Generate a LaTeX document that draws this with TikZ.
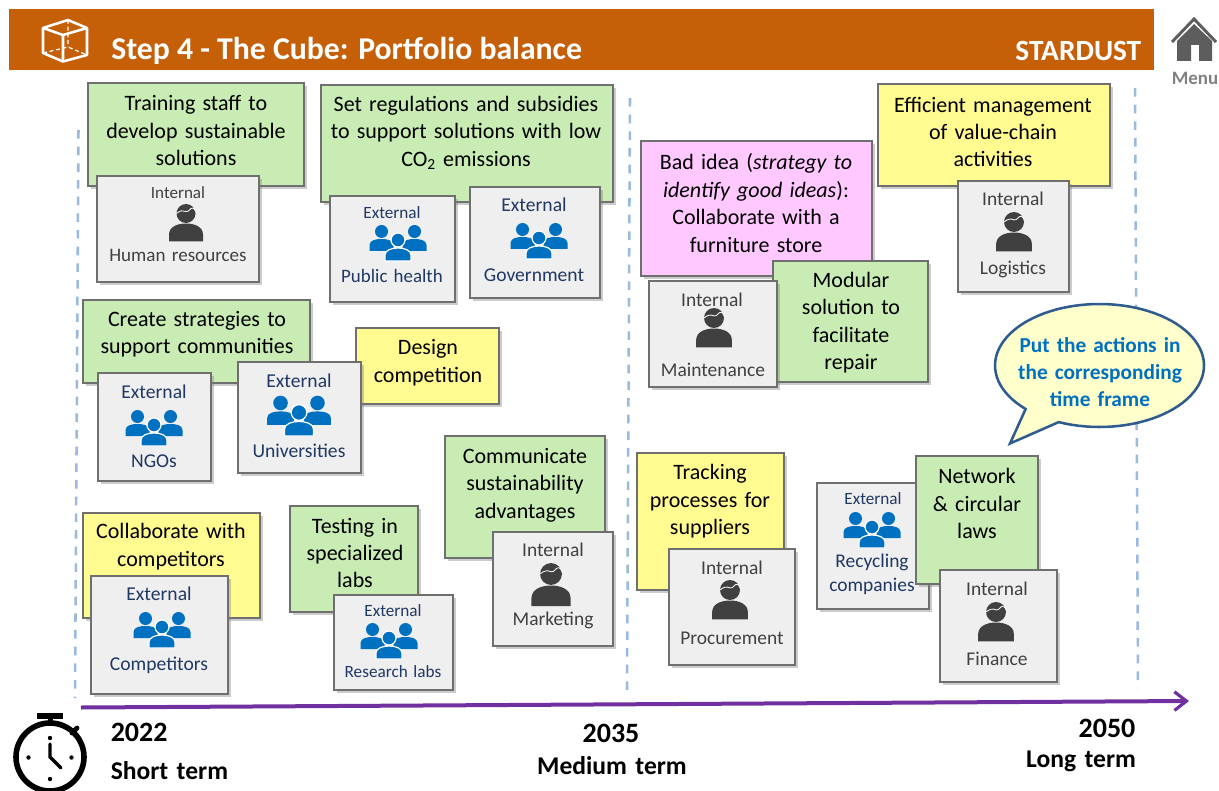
\documentclass[tikz,border=0pt]{standalone}
\usepackage{fontspec}
\setmainfont[WordSpace=1.45]{Carlito}
\newfontfamily\plainfont{Carlito}
\usetikzlibrary{shadows,arrows.meta}
\definecolor{hdr}{HTML}{C55F08}
\definecolor{gbox}{HTML}{C9EBB4}
\definecolor{ybox}{HTML}{FFFB91}
\definecolor{pbox}{HTML}{FFC9FF}
\definecolor{grbox}{HTML}{EFEFEF}
\definecolor{edge}{HTML}{6F6F6F}
\definecolor{navy}{HTML}{1F3864}
\definecolor{dk}{HTML}{404040}
\definecolor{blueic}{HTML}{0070C0}
\definecolor{dashc}{HTML}{9ABBDF}
\definecolor{purp}{HTML}{7030A0}
\definecolor{callouted}{HTML}{2E5C8E}
\definecolor{calloutfl}{HTML}{FFFFCC}
\tikzset{
 x=0.75pt,y=-0.75pt,
 sticky/.style={draw=edge,line width=1.1pt,drop shadow={shadow xshift=2pt,shadow yshift=-2pt,opacity=.4}},
 green/.style={sticky,fill=gbox},
 yellow/.style={sticky,fill=ybox},
 pink/.style={sticky,fill=pbox},
 gray/.style={sticky,fill=grbox},
 note/.style={align=center,font=\fontsize{16.5pt}{20.6pt}\selectfont,text=black,inner sep=0pt},
 intl/.style={font=\fontsize{14.6pt}{17pt}\selectfont,text=dk,inner sep=0pt},
 extl/.style={font=\fontsize{14.7pt}{17pt}\selectfont,text=navy,inner sep=0pt},
 smallext/.style={font=\fontsize{12.9pt}{15pt}\selectfont,text=navy,inner sep=0pt},
 timeyr/.style={font=\bfseries\fontsize{21pt}{25pt}\selectfont,inner sep=0pt},
 timelb/.style={font=\bfseries\fontsize{19.2pt}{23pt}\selectfont,inner sep=0pt},
 guide/.style={dashc,line width=1.9pt,dash pattern=on 6.5pt off 6pt},
}
\newcommand{\rbox}[6]{\path[#1] (#3,#4) rectangle (#5,#6) node[pos=.5,inner sep=0pt] (#2) {};}
\newcommand{\personicon}[3]{%
 \begin{scope}[shift={(#1,#2)},scale=#3]
 \fill[dk] (0,0) circle[radius=9.5];
 \fill[dk] (-17,28) -- (-17,21) .. controls (-17,13) and (-8,10) .. (0,10) .. controls (8,10) and (17,13) .. (17,21) -- (17,28) -- cycle;
 \draw[white,line width=.6pt] (-9.5,0) .. controls (-6,-3) and (-3,-3.5) .. (0,-2) .. controls (3,-1) and (4,-6) .. (7,-5.5) .. controls (8,-5) and (9,-3.5) .. (9.8,-2);
 \end{scope}}
\newcommand{\groupicon}[3]{%
 \begin{scope}[shift={(#1,#2)},scale=#3]
 \foreach \dx in {-16.5,16.5}{
  \fill[blueic] (\dx,-8.5) circle[radius=6.5];
  \fill[blueic] (\dx-12,11) -- (\dx-12,5) .. controls (\dx-12,0) and (\dx-5,-1) .. (\dx,-1) .. controls (\dx+5,-1) and (\dx+12,0) .. (\dx+12,5) -- (\dx+12,11) -- cycle;
 }
 \fill[blueic,draw=white,line width=.9pt] (0,0) circle[radius=7];
 \fill[blueic,draw=white,line width=.9pt] (-13,21) -- (-13,15) .. controls (-13,10) and (-6,8) .. (0,8) .. controls (6,8) and (13,10) .. (13,15) -- (13,21) -- cycle;
 \end{scope}}
\begin{document}
\begin{tikzpicture}
\useasboundingbox (0,0) rectangle (1219,791);
% header
\path[fill=hdr] (9,9) rectangle (1154,70);
\node[anchor=west,inner sep=0pt,text=white,font=\plainfont\bfseries\fontsize{23.8pt}{26pt}\selectfont] (title) at (111,50.5) {Step 4 - The Cube: Portfolio balance};
\node[anchor=east,inner sep=0pt,text=white,font=\bfseries\fontsize{22pt}{24pt}\selectfont] (brand) at (1141.5,51) {STARDUST};
% cube
\begin{scope}[white,line width=1.9pt,line join=round]
 \draw (43,28) -- (68,20) -- (87,28) -- (87,55) -- (63,61.5) -- (43,53) -- cycle;
 \draw (43,28) -- (63,35) -- (87,28) (63,35) -- (63,61.5);
 \draw[line width=.9pt,densely dashed] (68,20) -- (68,47) (43,53) -- (68,47) -- (87,55);
\end{scope}
% home
\draw[draw=dk!85,line width=2.2pt,line join=miter] (1172,42) -- (1194,19) -- (1216,42);
\path[fill=dk!85,even odd rule] (1177,41) -- (1194,24) -- (1212,41) -- (1212,61) -- (1199,61) -- (1199,45) -- (1191,45) -- (1191,61) -- (1177,61) -- cycle;
\node[inner sep=0pt,text=black!50,font=\bfseries\fontsize{14.2pt}{15pt}\selectfont] (menu) at (1195,78) {Menu};
% guides
\coordinate (g1a) at (78.5,130); \coordinate (g1b) at (75,698);
\coordinate (g2a) at (630,98); \coordinate (g2b) at (627,690);
\coordinate (g3a) at (1135,88); \coordinate (g3b) at (1138,688);
\draw[guide] (g1a) -- (g1b);
\draw[guide] (g2a) -- (g2b);
\draw[guide] (g3a) -- (g3b);
% arrow
\coordinate (tl0) at (81,707.5); \coordinate (tl1) at (1189,701);
\draw[purp,line width=3pt,-{Straight Barb[length=9pt,width=14pt,line width=2.4pt]}] (tl0) -- (tl1);
% coloured notes
\rbox{green}{n1}{88}{83}{304}{186}
\node[note] at (196,130.5) {Training staff to\\develop sustainable\\solutions};
\rbox{green}{n2}{321}{85}{613}{202}
\node[note] at (466,133) {Set regulations and subsidies\\to support solutions with low\\CO\textsubscript{2} emissions};
\rbox{green}{n3}{83}{300}{310}{383}
\node[note] at (197,334) {Create strategies to\\support communities};
\rbox{yellow}{n4}{356}{328}{499}{404}
\node[note] at (428,362.5) {Design\\competition};
\rbox{gray}{b5}{238}{362}{361}{473}
\rbox{green}{n5}{445}{436}{605}{558}
\node[note] at (525,485) {Communicate\\sustainability\\advantages};
\rbox{yellow}{n6}{83}{513}{260}{618}
\node[note] at (171,546.5) {Collaborate with\\competitors};
\rbox{green}{n7}{290}{506}{418}{612}
\node[note] at (355,553) {Testing in\\specialized\\labs};
\rbox{pink}{n8}{641}{141}{872}{276}
\node[note] at (756,203) {Bad idea (\textit{strategy to}\\\textit{identify good ideas}):\\Collaborate with a\\furniture store};
\rbox{green}{n9}{773}{261}{928}{382}
\node[note] at (851,322.5) {Modular\\solution to\\facilitate\\repair};
\rbox{yellow}{n10}{878}{84}{1110}{186}
\node[note] at (993,132) {Efficient management\\of value-chain\\activities};
\rbox{yellow}{n11}{637}{453}{784}{590}
\node[note] at (710,501.5) {Tracking\\processes for\\suppliers};
\rbox{gray}{b12}{817}{483}{929}{609}
\rbox{green}{n12}{916}{456}{1038}{584}
\node[note] at (977,503.5) {Network\\\& circular\\laws};
% grey cards
\rbox{gray}{b1}{97}{176}{259}{282}
\node[intl,font=\fontsize{12.8pt}{15pt}\selectfont] at (178,193) {Internal};
\personicon{186}{213.5}{1}
\node[intl,font=\fontsize{14.3pt}{17pt}\selectfont] at (178,255.5) {Human resources};
\rbox{gray}{b2}{330}{196}{455}{302}
\node[smallext] at (392,213) {External};
\groupicon{398}{240}{1}
\node[extl,font=\fontsize{14.2pt}{17pt}\selectfont] at (392,276) {Public health};
\rbox{gray}{b3}{470}{187}{600}{298}
\node[extl] at (534,205) {External};
\groupicon{539}{238}{1}
\node[extl] at (534,275) {Government};
\rbox{gray}{b4}{98}{373}{211}{481}
\node[extl] at (154,392) {External};
\groupicon{154}{425}{1}
\node[extl] at (154,461) {NGOs};
\node[extl] at (299,381) {External};
\groupicon{299}{412.5}{1.12}
\node[extl] at (299,451) {Universities};
\rbox{gray}{b6}{91}{576}{228}{694}
\node[extl] at (159,594) {External};
\groupicon{162}{627}{1}
\node[extl] at (159,665) {Competitors};
\rbox{gray}{b7}{334}{595}{453}{690}
\node[smallext] at (393,611) {External};
\groupicon{389}{638}{1}
\node[smallext] at (393,672) {Research labs};
\rbox{gray}{b8}{493}{532}{613}{646}
\node[intl] at (553,550) {Internal};
\personicon{551}{574}{1.15}
\node[intl] at (553,620) {Marketing};
\rbox{gray}{b9}{649}{281}{777}{387}
\node[intl] at (712,300) {Internal};
\personicon{714}{318}{1.05}
\node[intl] at (713,370) {Maintenance};
\rbox{gray}{b10}{958}{181}{1069}{292}
\node[intl] at (1013,199) {Internal};
\personicon{1014}{222}{1.05}
\node[intl] at (1013,269) {Logistics};
\rbox{gray}{b11}{669}{549}{795}{665}
\node[intl] at (732,568) {Internal};
\personicon{730}{590}{1.05}
\node[intl] at (732,638) {Procurement};
\node[smallext] at (873,499) {External};
\groupicon{872}{527}{1}
\node[extl,align=center,font=\fontsize{14.6pt}{18pt}\selectfont] at (872,574) {Recycling\\companies};
\rbox{gray}{b13}{940}{570}{1057}{682}
\node[intl] at (997,589) {Internal};
\personicon{996}{612}{1.05}
\node[intl] at (997,659) {Finance};
% callout
\draw[draw=callouted,fill=calloutfl,line width=1.9pt,line join=miter]
  plot[domain=113:-225,samples=90] ({1099.5+104.5*cos(\x)},{365.5+61.5*sin(\x)}) -- (1010,443.5) -- cycle;
\node[inner sep=0pt,align=center,text=blueic,font=\bfseries\fontsize{16pt}{20pt}\selectfont] (callout) at (1100,372) {Put the actions in\\the corresponding\\time frame};
% stopwatch
\begin{scope}[line cap=round]
 \draw[black,line width=4.2pt] (50,757) circle[radius=34];
 \fill[black] (37,713) rectangle (63,719);
 \fill[black] (47.5,718) rectangle (52.5,724);
 \draw[black,line width=3.6pt] (72,733) -- (77,728);
 \draw[black,line width=2.5pt] (50,744) -- (50,757) -- (61,768);
 \foreach \px/\py in {50/738,28.5/757.5,71.5/757.5,50/779}{\fill[black] (\px,\py) circle[radius=2.2];}
\end{scope}
% time labels
\node[timeyr,anchor=west] (y1) at (110.5,732) {2022};
\node[timelb,anchor=west] (t1) at (110.5,770.5) {Short term};
\node[timeyr] (y2) at (611,733) {2035};
\node[timelb] (t2) at (612,765.5) {Medium term};
\node[timeyr] (y3) at (1107,728) {2050};
\node[timelb] (t3) at (1081,761) {Long term};
\end{tikzpicture}
\end{document}
